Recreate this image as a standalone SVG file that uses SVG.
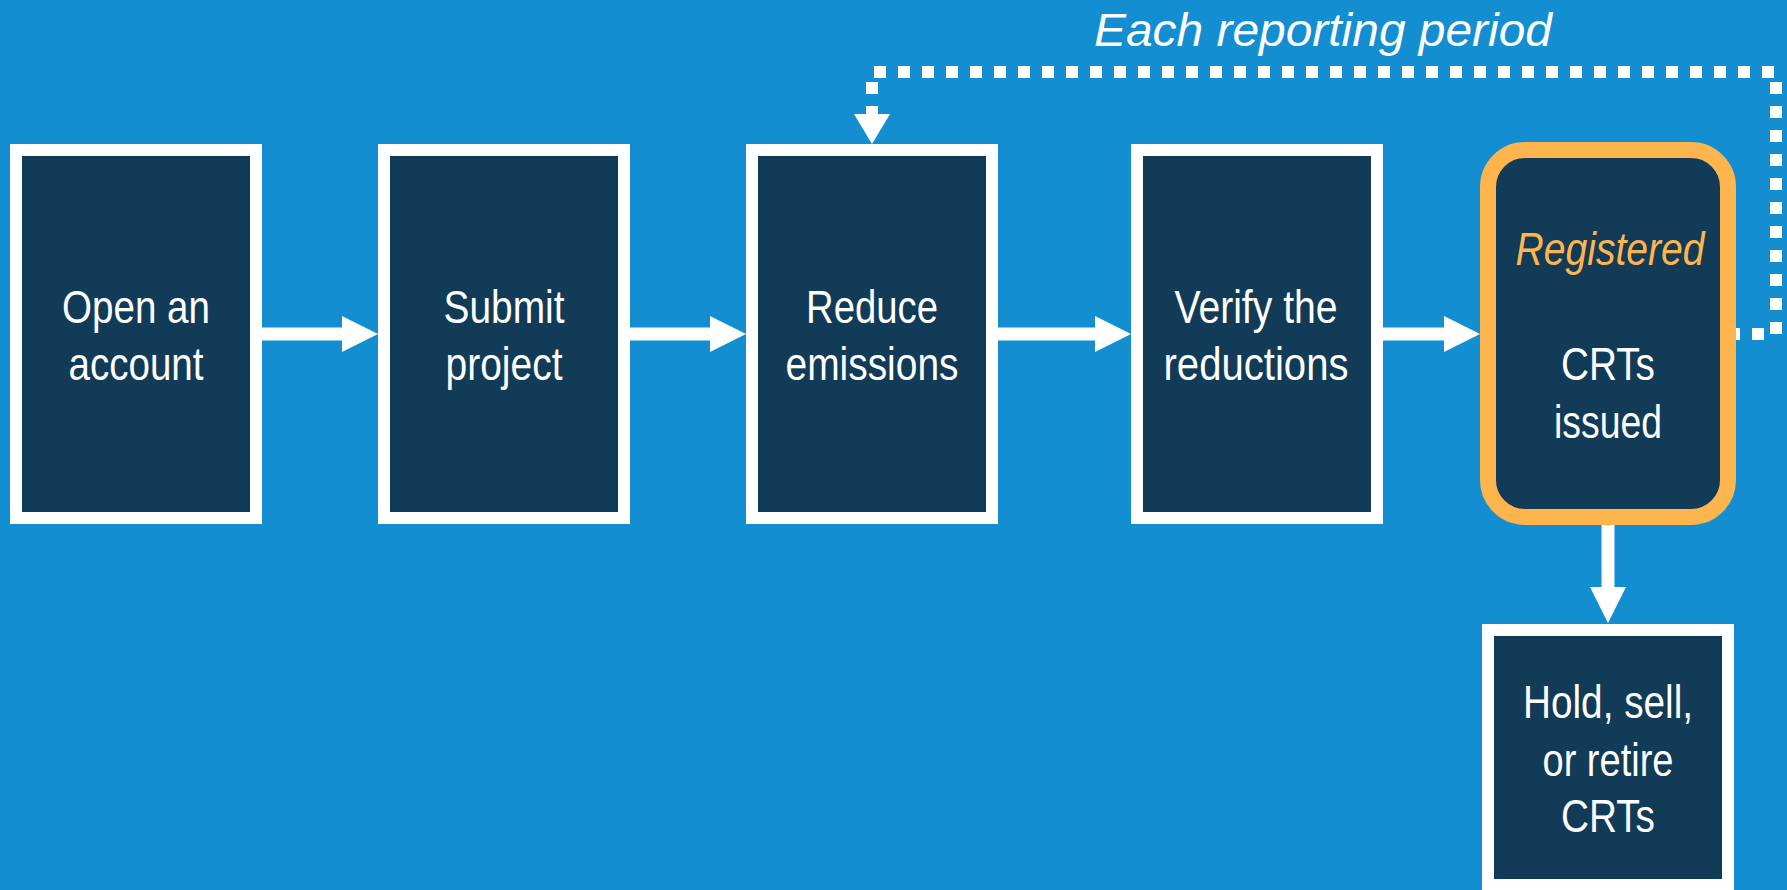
<svg xmlns="http://www.w3.org/2000/svg" width="1787" height="890" viewBox="0 0 1787 890">
  <defs>
    <style>
      .box { fill: #113B57; stroke: #FFFFFF; stroke-width: 12; }
      .hl { fill: #113B57; stroke: #FFB54D; stroke-width: 16; }
      .lbl { font-family: "Liberation Sans Narrow", "Liberation Sans", Arial, sans-serif; font-size: 47px; fill: #FFFFFF; text-anchor: middle; }
      .reg { font-family: "Liberation Sans Narrow", "Liberation Sans", Arial, sans-serif; font-size: 47px; font-style: italic; fill: #FFB54D; text-anchor: middle; }
      .title { font-family: "Liberation Sans", Arial, sans-serif; font-size: 47px; font-style: italic; fill: #FFFFFF; }
      .flow { stroke: #FFFFFF; stroke-width: 13; fill: none; marker-end: url(#head); }
      .loop { stroke: #FFFFFF; stroke-width: 12; fill: none; stroke-dasharray: 12 12; }
    </style>
    <marker id="head" markerUnits="userSpaceOnUse" markerWidth="36" markerHeight="36" refX="2" refY="18" orient="auto" viewBox="0 0 36 36">
      <path d="M0,0 L36,18 L0,36 Z" fill="#FFFFFF"/>
    </marker>
  </defs>

  <rect x="0" y="0" width="1787" height="890" fill="#138ED1"/>

  <text class="title" x="1094" y="46" textLength="458" lengthAdjust="spacingAndGlyphs">Each reporting period</text>

  <g id="connectors">
    <line class="flow" x1="262" y1="334" x2="344" y2="334"/>
    <line class="flow" x1="630" y1="334" x2="712" y2="334"/>
    <line class="flow" x1="998" y1="334" x2="1097" y2="334"/>
    <line class="flow" x1="1383" y1="334" x2="1446" y2="334"/>
    <line class="flow" x1="1608" y1="525" x2="1608" y2="589"/>
    <path class="loop" d="M1728 334 H1776 V72 H872 V114"/>
    <polygon points="854,114 890,114 872,144" fill="#FFFFFF"/>
  </g>

  <g id="open-account">
    <rect class="box" x="16" y="150" width="240" height="368"/>
    <text class="lbl" x="136" y="323" textLength="148" lengthAdjust="spacingAndGlyphs">Open an</text>
    <text class="lbl" x="136" y="380" textLength="135" lengthAdjust="spacingAndGlyphs">account</text>
  </g>

  <g id="submit-project">
    <rect class="box" x="384" y="150" width="240" height="368"/>
    <text class="lbl" x="504" y="323" textLength="121" lengthAdjust="spacingAndGlyphs">Submit</text>
    <text class="lbl" x="504" y="380" textLength="117" lengthAdjust="spacingAndGlyphs">project</text>
  </g>

  <g id="reduce-emissions">
    <rect class="box" x="752" y="150" width="240" height="368"/>
    <text class="lbl" x="872" y="323" textLength="132" lengthAdjust="spacingAndGlyphs">Reduce</text>
    <text class="lbl" x="872" y="380" textLength="173" lengthAdjust="spacingAndGlyphs">emissions</text>
  </g>

  <g id="verify-reductions">
    <rect class="box" x="1137" y="150" width="240" height="368"/>
    <text class="lbl" x="1256" y="323" textLength="163" lengthAdjust="spacingAndGlyphs">Verify the</text>
    <text class="lbl" x="1256" y="380" textLength="185" lengthAdjust="spacingAndGlyphs">reductions</text>
  </g>

  <g id="crts-issued">
    <rect class="hl" x="1488" y="150" width="240" height="367" rx="37" ry="37"/>
    <text class="reg" x="1610" y="265" textLength="189" lengthAdjust="spacingAndGlyphs">Registered</text>
    <text class="lbl" x="1608" y="380" textLength="94" lengthAdjust="spacingAndGlyphs">CRTs</text>
    <text class="lbl" x="1608" y="438" textLength="108" lengthAdjust="spacingAndGlyphs">issued</text>
  </g>

  <g id="hold-sell-retire">
    <rect class="box" x="1488" y="630" width="240" height="255"/>
    <text class="lbl" x="1608" y="718" textLength="170" lengthAdjust="spacingAndGlyphs">Hold, sell,</text>
    <text class="lbl" x="1608" y="776" textLength="131" lengthAdjust="spacingAndGlyphs">or retire</text>
    <text class="lbl" x="1608" y="832" textLength="94" lengthAdjust="spacingAndGlyphs">CRTs</text>
  </g>
</svg>
